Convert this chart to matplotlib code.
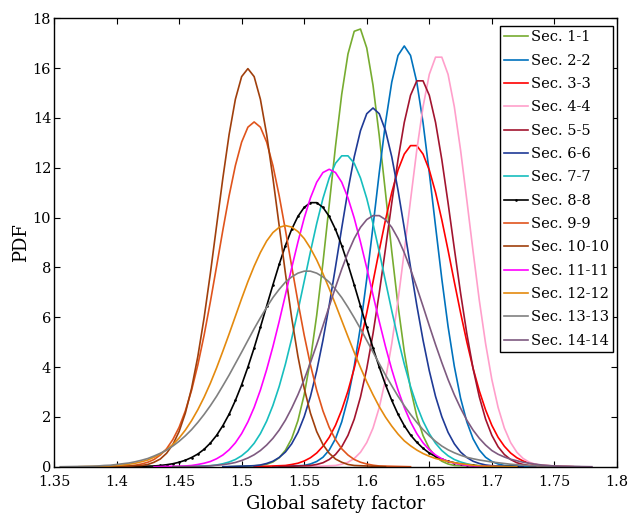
#!/usr/bin/env python3
"""PDF of the global safety factor for each analysed section."""

import numpy as np
import matplotlib
matplotlib.use('Agg')
import matplotlib.pyplot as plt

STEP = 0.005

labels = ['Sec. 1-1', 'Sec. 2-2', 'Sec. 3-3', 'Sec. 4-4', 'Sec. 5-5',
          'Sec. 6-6', 'Sec. 7-7', 'Sec. 8-8', 'Sec. 9-9', 'Sec. 10-10',
          'Sec. 11-11', 'Sec. 12-12', 'Sec. 13-13', 'Sec. 14-14']

colors = ['#77AC30', '#0072BD', '#FF0000', '#FF9FCB', '#A2142F',
          '#1F3A96', '#17BEBE', '#000000', '#E0541C', '#A03F0C',
          '#FF00FF', '#E48A0E', '#808080', '#7E5A80']

# first safety factor of each sampled density (values every STEP)
x_start = [1.515, 1.550, 1.535, 1.575, 1.555, 1.510, 1.475,
           1.430, 1.410, 1.420, 1.455, 1.395, 1.380, 1.470]

pdf_01 = [0.05, 0.10, 0.19, 0.36, 0.66, 1.13, 1.85, 2.89, 4.29, 6.08,
          8.19, 10.51, 12.85, 14.95, 16.57, 17.48, 17.57, 16.81, 15.32, 13.29,
          10.99, 8.64, 6.47, 4.62, 3.14, 2.03, 1.25, 0.73, 0.41, 0.22,
          0.11, 0.05]
pdf_02 = [0.05, 0.11, 0.21, 0.38, 0.67, 1.12, 1.80, 2.75, 4.03, 5.63,
          7.54, 9.65, 11.80, 13.81, 15.44, 16.51, 16.89, 16.51, 15.44, 13.81,
          11.80, 9.65, 7.54, 5.63, 4.03, 2.75, 1.80, 1.12, 0.67, 0.38,
          0.21, 0.11, 0.05]
pdf_03 = [0.05, 0.09, 0.14, 0.23, 0.36, 0.55, 0.82, 1.18, 1.66, 2.28,
          3.04, 3.95, 5.01, 6.18, 7.42, 8.69, 9.91, 11.01, 11.91, 12.55,
          12.89, 12.89, 12.55, 11.91, 11.01, 9.91, 8.69, 7.42, 6.18, 5.01,
          3.95, 3.04, 2.28, 1.66, 1.18, 0.82, 0.55, 0.36, 0.23, 0.14,
          0.09, 0.05]
pdf_04 = [0.05, 0.10, 0.18, 0.33, 0.58, 0.97, 1.55, 2.38, 3.50, 4.94,
          6.67, 8.64, 10.70, 12.71, 14.45, 15.75, 16.44, 16.44, 15.75, 14.45,
          12.71, 10.70, 8.64, 6.67, 4.94, 3.50, 2.38, 1.55, 0.97, 0.58,
          0.33, 0.18, 0.10, 0.05]
pdf_05 = [0.05, 0.09, 0.16, 0.29, 0.49, 0.80, 1.26, 1.91, 2.80, 3.94,
          5.34, 6.97, 8.76, 10.59, 12.33, 13.82, 14.91, 15.49, 15.49, 14.91,
          13.82, 12.33, 10.59, 8.76, 6.97, 5.34, 3.94, 2.80, 1.91, 1.26,
          0.80, 0.49, 0.29, 0.16, 0.09, 0.05]
pdf_06 = [0.04, 0.07, 0.13, 0.22, 0.37, 0.59, 0.92, 1.38, 2.01, 2.82,
          3.85, 5.08, 6.48, 8.01, 9.58, 11.10, 12.44, 13.49, 14.17, 14.40,
          14.17, 13.49, 12.44, 11.10, 9.58, 8.01, 6.48, 5.08, 3.85, 2.82,
          2.01, 1.38, 0.92, 0.59, 0.37, 0.22, 0.13, 0.07, 0.04]
pdf_07 = [0.04, 0.07, 0.12, 0.19, 0.29, 0.44, 0.65, 0.94, 1.33, 1.83,
          2.46, 3.22, 4.12, 5.14, 6.26, 7.44, 8.63, 9.76, 10.77, 11.59,
          12.18, 12.48, 12.48, 12.18, 11.59, 10.77, 9.76, 8.63, 7.44, 6.26,
          5.14, 4.12, 3.22, 2.46, 1.83, 1.33, 0.94, 0.65, 0.44, 0.29,
          0.19, 0.12, 0.07, 0.04]
pdf_08 = [0.03, 0.05, 0.08, 0.12, 0.18, 0.26, 0.37, 0.51, 0.70, 0.95,
          1.26, 1.65, 2.11, 2.66, 3.29, 4.00, 4.77, 5.60, 6.45, 7.30,
          8.12, 8.88, 9.53, 10.05, 10.41, 10.60, 10.60, 10.41, 10.05, 9.53,
          8.88, 8.12, 7.30, 6.45, 5.60, 4.77, 4.00, 3.29, 2.66, 2.11,
          1.65, 1.27, 0.98, 0.74, 0.55, 0.41, 0.30, 0.22, 0.16, 0.11,
          0.07, 0.05, 0.03, 0.02]
pdf_09 = [0.03, 0.06, 0.11, 0.18, 0.29, 0.47, 0.72, 1.09, 1.58, 2.24,
          3.07, 4.09, 5.28, 6.62, 8.05, 9.50, 10.88, 12.09, 13.03, 13.63,
          13.84, 13.63, 13.03, 12.09, 10.88, 9.50, 8.05, 6.62, 5.28, 4.09,
          3.07, 2.24, 1.58, 1.09, 0.72, 0.47, 0.29, 0.18, 0.11, 0.06,
          0.03]
pdf_10 = [0.05, 0.09, 0.18, 0.31, 0.54, 0.89, 1.41, 2.15, 3.15, 4.43,
          5.98, 7.76, 9.68, 11.59, 13.34, 14.75, 15.66, 15.98, 15.66, 14.75,
          13.34, 11.59, 9.68, 7.76, 5.98, 4.43, 3.15, 2.15, 1.41, 0.89,
          0.54, 0.31, 0.18, 0.09, 0.05]
pdf_11 = [0.03, 0.05, 0.09, 0.14, 0.21, 0.32, 0.47, 0.68, 0.96, 1.33,
          1.80, 2.38, 3.08, 3.90, 4.82, 5.83, 6.90, 7.98, 9.02, 9.98,
          10.79, 11.42, 11.81, 11.94, 11.81, 11.42, 10.79, 9.98, 9.02, 7.98,
          6.90, 5.83, 4.82, 3.90, 3.08, 2.38, 1.80, 1.33, 0.96, 0.68,
          0.47, 0.32, 0.21, 0.14, 0.09, 0.05, 0.03]
pdf_12 = [0.03, 0.05, 0.07, 0.10, 0.14, 0.20, 0.27, 0.38, 0.51, 0.68,
          0.89, 1.15, 1.47, 1.85, 2.29, 2.79, 3.35, 3.97, 4.64, 5.33,
          6.04, 6.75, 7.43, 8.05, 8.60, 9.06, 9.40, 9.61, 9.68, 9.62,
          9.44, 9.16, 8.77, 8.30, 7.75, 7.15, 6.52, 5.87, 5.22, 4.59,
          3.98, 3.41, 2.89, 2.41, 1.99, 1.63, 1.31, 1.04, 0.84, 0.67,
          0.53, 0.42, 0.33, 0.27, 0.21, 0.16, 0.12, 0.09, 0.06, 0.04,
          0.02]
pdf_13 = [0.02, 0.03, 0.05, 0.06, 0.09, 0.12, 0.15, 0.20, 0.26, 0.33,
          0.43, 0.54, 0.67, 0.83, 1.02, 1.24, 1.49, 1.78, 2.10, 2.45,
          2.83, 3.25, 3.68, 4.14, 4.60, 5.07, 5.54, 5.98, 6.40, 6.79,
          7.12, 7.41, 7.62, 7.77, 7.85, 7.85, 7.77, 7.62, 7.41, 7.12,
          6.79, 6.40, 5.98, 5.54, 5.07, 4.60, 4.14, 3.68, 3.25, 2.83,
          2.45, 2.10, 1.78, 1.49, 1.24, 1.02, 0.83, 0.68, 0.56, 0.46,
          0.38, 0.32, 0.27, 0.23, 0.19, 0.16, 0.13, 0.10, 0.08, 0.06,
          0.05, 0.04, 0.03, 0.02]
pdf_14 = [0.02, 0.04, 0.06, 0.08, 0.12, 0.17, 0.25, 0.35, 0.48, 0.65,
          0.87, 1.14, 1.47, 1.87, 2.35, 2.89, 3.50, 4.18, 4.90, 5.66,
          6.44, 7.20, 7.93, 8.59, 9.16, 9.61, 9.92, 10.08, 10.08, 9.92,
          9.61, 9.16, 8.59, 7.93, 7.20, 6.44, 5.66, 4.90, 4.18, 3.50,
          2.89, 2.35, 1.87, 1.47, 1.14, 0.87, 0.65, 0.50, 0.39, 0.30,
          0.24, 0.18, 0.14, 0.10, 0.07, 0.05, 0.03, 0.02]

pdfs = [pdf_01, pdf_02, pdf_03, pdf_04, pdf_05, pdf_06, pdf_07,
        pdf_08, pdf_09, pdf_10, pdf_11, pdf_12, pdf_13, pdf_14]


def main():
    plt.rcParams['font.family'] = ['DejaVu Serif']
    plt.rcParams['mathtext.fontset'] = 'dejavuserif'

    fig = plt.figure(figsize=(6.32, 5.16), dpi=100)
    ax = fig.add_axes([0.0854, 0.0955, 0.8908, 0.869])

    for x0, pdf, color, label in zip(x_start, pdfs, colors, labels):
        # pad each density with zero on both sides so it lies along the axis
        y = np.r_[0.0, pdf, 0.0]
        x = x0 + STEP * (np.arange(len(y)) - 1)
        x[0] -= 0.02
        x[-1] += 0.02
        if label == 'Sec. 8-8':
            ax.plot(x, y, color=color, lw=1.2, marker='.', ms=1.8, label=label)
        else:
            ax.plot(x, y, color=color, lw=1.2, label=label)

    ax.set_xlim(1.35, 1.8)
    ax.set_ylim(0, 18)
    ax.set_xticks(np.arange(1.35, 1.801, 0.05))
    ax.set_xticklabels(['1.35', '1.4', '1.45', '1.5', '1.55', '1.6',
                        '1.65', '1.7', '1.75', '1.8'])
    ax.set_yticks(np.arange(0, 19, 2))
    ax.tick_params(direction='in', top=True, right=True, length=4,
                   width=0.8, labelsize=10.5)
    ax.tick_params(axis='x', pad=6)
    ax.tick_params(axis='y', pad=2)
    for spine in ax.spines.values():
        spine.set_linewidth(1.0)

    ax.set_xlabel('Global safety factor', fontsize=13, labelpad=4)
    ax.set_ylabel('PDF', fontsize=13, labelpad=2)

    leg = ax.legend(loc='upper right', bbox_to_anchor=(0.993, 0.983),
                    borderaxespad=0, fontsize=10.5, labelspacing=0.64,
                    handlelength=1.6, handletextpad=0.2, borderpad=0.3,
                    fancybox=False, framealpha=1, edgecolor='black')
    leg.get_frame().set_linewidth(1.0)

    plt.savefig('out.png', dpi=100)


if __name__ == '__main__':
    main()
